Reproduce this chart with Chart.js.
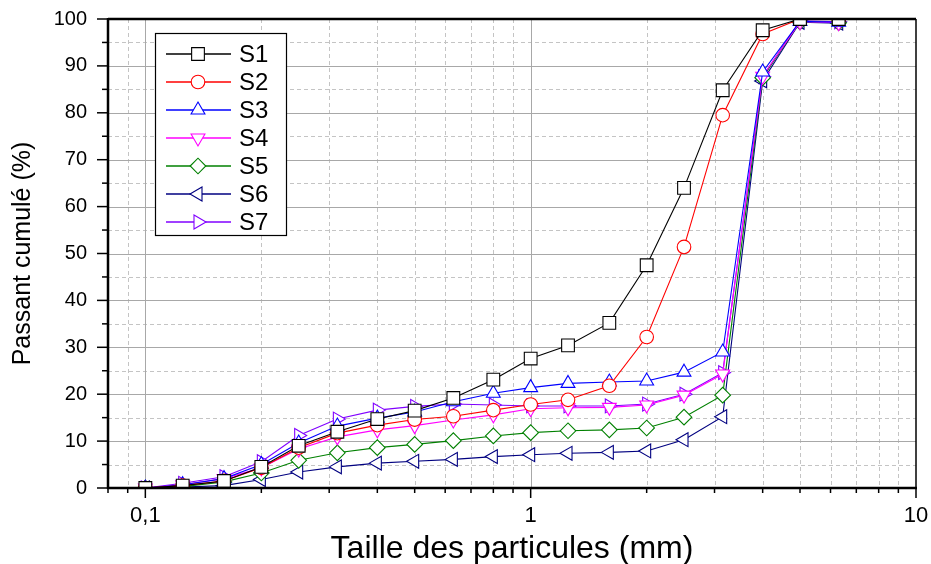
<!DOCTYPE html>
<html>
<head>
<meta charset="utf-8">
<script src="https://cdn.jsdelivr.net/npm/chart.js@4/dist/chart.umd.min.js"></script>
<style>
  html, body { margin: 0; padding: 0; background: #ffffff; }
  #wrap { width: 931px; height: 564px; }
</style>
</head>
<body>
<div id="wrap"><canvas id="chart" width="931" height="564"></canvas></div>
<script>
// Sieve openings (mm)
const sizes = [0.1, 0.125, 0.16, 0.2, 0.25, 0.315, 0.4, 0.5, 0.63, 0.8, 1, 1.25, 1.6, 2, 2.5, 3.15, 4, 5, 6.3];

// Cumulative passing (%) for each sample
const s1 = [0, 0.5, 1.5, 4.5, 9.0, 12.0, 14.7, 16.5, 19.2, 23.1, 27.6, 30.4, 35.2, 47.5, 64.0, 84.8, 97.6, 100, 100];
const s2 = [0, 0.5, 1.5, 4.3, 8.6, 11.7, 13.4, 14.6, 15.3, 16.6, 17.8, 18.8, 21.8, 32.2, 51.4, 79.5, 96.8, 100, 100];
const s3 = [0, 0.7, 2.0, 5.0, 9.6, 13.2, 14.9, 16.2, 18.4, 20.2, 21.4, 22.3, 22.6, 22.8, 24.7, 29.0, 88.7, 99.5, 99.3];
const s4 = [0, 0.7, 2.0, 4.3, 8.3, 10.9, 12.4, 13.3, 14.5, 15.6, 16.9, 17.1, 17.2, 17.7, 19.8, 24.3, 87.8, 99.4, 99.2];
const s5 = [0, 0.3, 1.3, 3.2, 5.9, 7.5, 8.6, 9.3, 10.1, 11.1, 11.8, 12.2, 12.4, 12.8, 15.1, 19.8, 87.5, 99.4, 99.2];
const s6 = [0, 0.2, 0.5, 1.8, 3.4, 4.5, 5.3, 5.7, 6.1, 6.7, 7.1, 7.4, 7.6, 7.9, 10.3, 15.2, 86.8, 99.3, 99.1];
const s7 = [0, 1.0, 2.4, 5.6, 11.2, 14.7, 16.6, 17.4, 17.9, 17.7, 17.5, 17.5, 17.5, 17.9, 20.0, 24.6, 87.7, 99.6, 99.4];

const seriesNames = ['S1', 'S2', 'S3', 'S4', 'S5', 'S6', 'S7'];
const seriesValues = [s1, s2, s3, s4, s5, s6, s7];

// Axis ticks
const xLabelTicks = [0.1, 1, 10];
const xMinorTicks = [0.08, 0.09, 0.2, 0.3, 0.4, 0.5, 0.6, 0.7, 0.8, 0.9, 2, 3, 4, 5, 6, 7, 8, 9];
const yMajorTicks = [0, 10, 20, 30, 40, 50, 60, 70, 80, 90, 100];
const yMinorTicks = [5, 15, 25, 35, 45, 55, 65, 75, 85, 95];

// Marker styling per series
const colors = ['#000000', '#ff0000', '#0000ff', '#ff00ff', '#008000', '#000080', '#8000ff'];
const markers = [
  { style: 'rect', rotation: 0, radius: 9 },
  { style: 'circle', rotation: 0, radius: 6.8 },
  { style: 'triangle', rotation: 0, radius: 8 },
  { style: 'triangle', rotation: 180, radius: 8 },
  { style: 'rectRot', rotation: 0, radius: 7.8 },
  { style: 'triangle', rotation: -90, radius: 8 },
  { style: 'triangle', rotation: 90, radius: 8 }
];

const FONT = '"Liberation Sans", Arial, sans-serif';

const datasets = seriesNames.map((name, i) => ({
  label: name,
  data: sizes.map((s, k) => ({ x: s, y: seriesValues[i][k] })),
  borderColor: colors[i],
  backgroundColor: '#ffffff',
  borderWidth: 1.1,
  pointStyle: markers[i].style,
  rotation: markers[i].rotation,
  pointRadius: markers[i].radius,
  pointHoverRadius: markers[i].radius,
  pointBorderColor: colors[i],
  pointBackgroundColor: '#ffffff',
  pointBorderWidth: 1.1,
  tension: 0
}));

// Grid lines, axis frame and tick marks drawn from the scales
const framePlugin = {
  id: 'frame',
  beforeDatasetsDraw(chart) {
    const { ctx, chartArea: a, scales: { x, y } } = chart;
    ctx.save();
    ctx.lineWidth = 1;
    // minor (dashed)
    ctx.strokeStyle = '#c4c4c4';
    ctx.setLineDash([4, 3]);
    xMinorTicks.forEach(v => {
      const px = Math.round(x.getPixelForValue(v)) + 0.5;
      if (px <= a.left + 1 || px >= a.right - 1) return;
      ctx.beginPath(); ctx.moveTo(px, a.top); ctx.lineTo(px, a.bottom); ctx.stroke();
    });
    yMinorTicks.forEach(v => {
      const py = Math.round(y.getPixelForValue(v)) + 0.5;
      ctx.beginPath(); ctx.moveTo(a.left, py); ctx.lineTo(a.right, py); ctx.stroke();
    });
    // major (solid)
    ctx.setLineDash([]);
    ctx.strokeStyle = '#a8a8a8';
    xLabelTicks.forEach(v => {
      const px = Math.round(x.getPixelForValue(v)) + 0.5;
      if (px <= a.left + 1 || px >= a.right - 1) return;
      ctx.beginPath(); ctx.moveTo(px, a.top); ctx.lineTo(px, a.bottom); ctx.stroke();
    });
    yMajorTicks.forEach(v => {
      const py = Math.round(y.getPixelForValue(v)) + 0.5;
      if (py <= a.top + 1 || py >= a.bottom - 1) return;
      ctx.beginPath(); ctx.moveTo(a.left, py); ctx.lineTo(a.right, py); ctx.stroke();
    });
    ctx.restore();
  },
  afterDatasetsDraw(chart) {
    const { ctx, chartArea: a, scales: { x, y } } = chart;
    ctx.save();
    ctx.strokeStyle = '#000000';
    ctx.setLineDash([]);
    // frame
    ctx.lineWidth = 2.5;
    ctx.beginPath();
    ctx.moveTo(a.left, a.top); ctx.lineTo(a.right, a.top);
    ctx.moveTo(a.left, a.top - 1); ctx.lineTo(a.left, a.bottom + 1);
    ctx.moveTo(a.left - 1, a.bottom); ctx.lineTo(a.right + 1, a.bottom);
    ctx.stroke();
    ctx.lineWidth = 1.5;
    ctx.beginPath();
    ctx.moveTo(a.right, a.top); ctx.lineTo(a.right, a.bottom);
    ctx.stroke();
    // bottom ticks (outward)
    ctx.lineWidth = 1.5;
    xLabelTicks.forEach(v => {
      const px = x.getPixelForValue(v);
      ctx.beginPath(); ctx.moveTo(px, a.bottom); ctx.lineTo(px, a.bottom + 10); ctx.stroke();
    });
    xMinorTicks.forEach(v => {
      const px = x.getPixelForValue(v);
      ctx.beginPath(); ctx.moveTo(px, a.bottom); ctx.lineTo(px, a.bottom + 5); ctx.stroke();
    });
    // left ticks (outward)
    yMajorTicks.forEach(v => {
      const py = y.getPixelForValue(v);
      ctx.beginPath(); ctx.moveTo(a.left, py); ctx.lineTo(a.left - 11, py); ctx.stroke();
    });
    yMinorTicks.forEach(v => {
      const py = y.getPixelForValue(v);
      ctx.beginPath(); ctx.moveTo(a.left, py); ctx.lineTo(a.left - 6, py); ctx.stroke();
    });
    ctx.restore();
  }
};

// Boxed legend inside the plot area
const insideLegend = {
  id: 'insideLegend',
  afterDraw(chart) {
    const { ctx, chartArea: a } = chart;
    const boxL = a.left + 47, boxT = a.top + 14, boxW = 131, boxH = 202;
    ctx.save();
    ctx.fillStyle = '#ffffff';
    ctx.fillRect(boxL, boxT, boxW, boxH);
    ctx.strokeStyle = '#000000';
    ctx.lineWidth = 1.2;
    ctx.strokeRect(boxL + 0.5, boxT + 0.5, boxW, boxH);
    chart.data.datasets.forEach((ds, i) => {
      const cy = boxT + 21 + i * 28;
      ctx.strokeStyle = ds.borderColor;
      ctx.lineWidth = 1.5;
      ctx.beginPath(); ctx.moveTo(boxL + 11, cy); ctx.lineTo(boxL + 76, cy); ctx.stroke();
      ctx.lineWidth = 1.1;
      ctx.fillStyle = '#ffffff';
      Chart.helpers.drawPoint(ctx, {
        pointStyle: ds.pointStyle,
        rotation: ds.rotation,
        radius: ds.pointRadius,
        borderWidth: 1.1
      }, boxL + 43, cy);
      ctx.fillStyle = '#000000';
      ctx.font = '24px ' + FONT;
      ctx.textBaseline = 'middle';
      ctx.textAlign = 'left';
      ctx.fillText(ds.label, boxL + 84, cy + 1);
    });
    ctx.restore();
  }
};

new Chart(document.getElementById('chart'), {
  type: 'line',
  data: { datasets },
  options: {
    responsive: false,
    animation: false,
    devicePixelRatio: 1,
    layout: { padding: { left: 0, right: 15, top: 19, bottom: 0 } },
    plugins: {
      legend: { display: false },
      tooltip: { enabled: false }
    },
    scales: {
      x: {
        type: 'logarithmic',
        min: 0.08,
        max: 10,
        afterBuildTicks(scale) { scale.ticks = xLabelTicks.map(v => ({ value: v })); },
        afterFit(scale) {
          scale.height = 76;
          scale.paddingLeft = 0;
          scale.paddingRight = 0;
        },
        grid: { display: false },
        border: { display: false },
        ticks: {
          autoSkip: false,
          maxRotation: 0,
          padding: 7,
          color: '#000000',
          font: { family: FONT, size: 22 },
          callback: (v) => String(v).replace('.', ',')
        },
        title: {
          display: true,
          text: 'Taille des particules (mm)',
          color: '#000000',
          font: { family: FONT, size: 32 },
          padding: { top: 0, bottom: -4 }
        }
      },
      y: {
        min: 0,
        max: 100,
        afterBuildTicks(scale) { scale.ticks = yMajorTicks.map(v => ({ value: v })); },
        afterFit(scale) {
          scale.width = 108;
          scale.paddingTop = 0;
          scale.paddingBottom = 0;
        },
        grid: { display: false },
        border: { display: false },
        ticks: {
          padding: 13,
          color: '#000000',
          font: { family: FONT, size: 20 }
        },
        title: {
          display: true,
          text: 'Passant cumulé (%)',
          color: '#000000',
          font: { family: FONT, size: 25 },
          padding: { top: 8, bottom: 0 }
        }
      }
    }
  },
  plugins: [framePlugin, insideLegend]
});
</script>
</body>
</html>
